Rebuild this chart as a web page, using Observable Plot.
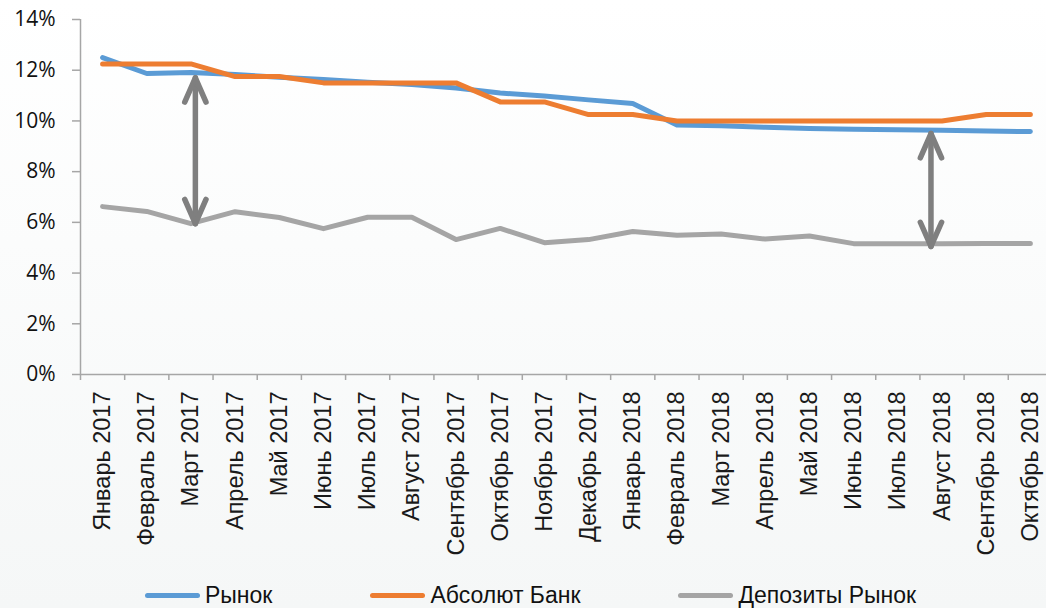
<!DOCTYPE html>
<html>
<head>
<meta charset="utf-8">
<script src="https://cdn.jsdelivr.net/npm/d3@7"></script>
<script src="https://cdn.jsdelivr.net/npm/@observablehq/plot@0.6"></script>
<style>
  html, body { margin: 0; padding: 0; }
  body { width: 1046px; height: 608px; overflow: hidden; background: linear-gradient(#ffffff 0%, #fbfcfc 40%, #f5f7f7 100%); font-family: "Liberation Sans", Arial, sans-serif; }
  #chart svg { background: transparent !important; display: block; }
  #legend { display: flex; align-items: center; padding-left: 145px; height: 32px; margin-top: 5px; font-size: 23px; color: #111; }
  .item { display: flex; align-items: center; margin-right: 98px; }
  .sw { width: 55px; height: 5px; border-radius: 3px; margin-right: 5px; }
</style>
</head>
<body>
<div id="chart"></div>
<div id="legend"></div>
<script>
const months = ["Январь 2017","Февраль 2017","Март 2017","Апрель 2017","Май 2017","Июнь 2017","Июль 2017","Август 2017","Сентябрь 2017","Октябрь 2017","Ноябрь 2017","Декабрь 2017","Январь 2018","Февраль 2018","Март 2018","Апрель 2018","Май 2018","Июнь 2018","Июль 2018","Август 2018","Сентябрь 2018","Октябрь 2018"];
const seriesNames = ["Рынок", "Абсолют Банк", "Депозиты Рынок"];
const seriesColors = ["#5b9bd5", "#ed7d31", "#a5a5a5"];
const rynok = [12.5, 11.87, 11.91, 11.83, 11.72, 11.63, 11.53, 11.44, 11.3, 11.1, 10.98, 10.83, 10.69, 9.84, 9.81, 9.75, 9.7, 9.67, 9.65, 9.63, 9.6, 9.58];
const absolut = [12.25, 12.25, 12.25, 11.75, 11.75, 11.5, 11.5, 11.5, 11.5, 10.75, 10.75, 10.25, 10.25, 10, 10, 10, 10, 10, 10, 10, 10.25, 10.25];
const deposits = [6.62, 6.43, 5.95, 6.42, 6.19, 5.75, 6.2, 6.2, 5.32, 5.76, 5.2, 5.32, 5.64, 5.49, 5.54, 5.34, 5.46, 5.16, 5.16, 5.16, 5.17, 5.17];
const yTicks = [0, 2, 4, 6, 8, 10, 12, 14];
// gap arrows (annotation): position in month units, top and bottom values in %
const arrowX = [2.6, 19.25];
const arrowTop = [11.7, 9.5];
const arrowBottom = [5.95, 5.05];

const seriesValues = [rynok, absolut, deposits];
const data = seriesValues.flatMap((vals, s) => vals.map((v, i) => ({x: i + 0.5, v, series: seriesNames[s]})));
const arrows = arrowX.map((x, i) => ({x, top: arrowTop[i], bottom: arrowBottom[i]}));

const axisColor = "#a6a6a6";
const chart = Plot.plot({
  width: 1046,
  height: 574,
  marginLeft: 80,
  marginRight: 0,
  marginTop: 19,
  marginBottom: 200,
  x: {type: "linear", domain: [0, months.length], range: [80, 80 + 44.18 * months.length], axis: null},
  y: {domain: [0, 14], axis: null},
  color: {domain: seriesNames, range: seriesColors},
  marks: [
    Plot.ruleX([0], {y1: 0, y2: 14, stroke: axisColor, strokeWidth: 1.5}),
    Plot.ruleY([0], {stroke: axisColor, strokeWidth: 1.5}),
    Plot.axisY({ticks: yTicks, tickFormat: d => d + "%", label: null, tickSize: 8, tickPadding: 17, fontSize: 21, fontFamily: "Open Sans", stroke: axisColor, strokeWidth: 1.5, color: "#111"}),
    Plot.axisX({ticks: d3.range(0, months.length + 1), tickFormat: () => "", label: null, tickSize: 6, stroke: axisColor, strokeWidth: 1.5}),
    Plot.axisX({ticks: d3.range(months.length).map(i => i + 0.5), tickFormat: d => months[Math.floor(d)], label: null, tickRotate: -90, tickSize: 0, tickPadding: 17, fontSize: 23.5, fontFamily: "Liberation Sans", color: "#1a1a1a"}),
    Plot.line(data, {x: "x", y: "v", z: "series", stroke: "series", strokeWidth: 5, strokeLinecap: "round", strokeLinejoin: "round"}),
    Plot.link(arrows, {x1: "x", x2: "x", y1: "top", y2: "bottom", stroke: "#7f7f7f", strokeWidth: 5.5, strokeLinecap: "round", markerStart: "arrow", markerEnd: "arrow"})
  ]
});
chart.querySelectorAll("marker").forEach(m => {
  m.setAttribute("overflow", "visible");
  m.setAttribute("orient", "auto-start-reverse");
  const p = m.querySelector("path");
  if (p) p.setAttribute("d", "M-6.6,-2.9L0,0L-6.6,2.9");
});
document.getElementById("chart").appendChild(chart);

const legend = document.getElementById("legend");
seriesNames.forEach((n, i) => {
  const it = document.createElement("div");
  it.className = "item";
  const sw = document.createElement("div");
  sw.className = "sw";
  sw.style.background = seriesColors[i];
  const t = document.createElement("span");
  t.textContent = n;
  it.appendChild(sw);
  it.appendChild(t);
  legend.appendChild(it);
});
</script>
</body>
</html>
